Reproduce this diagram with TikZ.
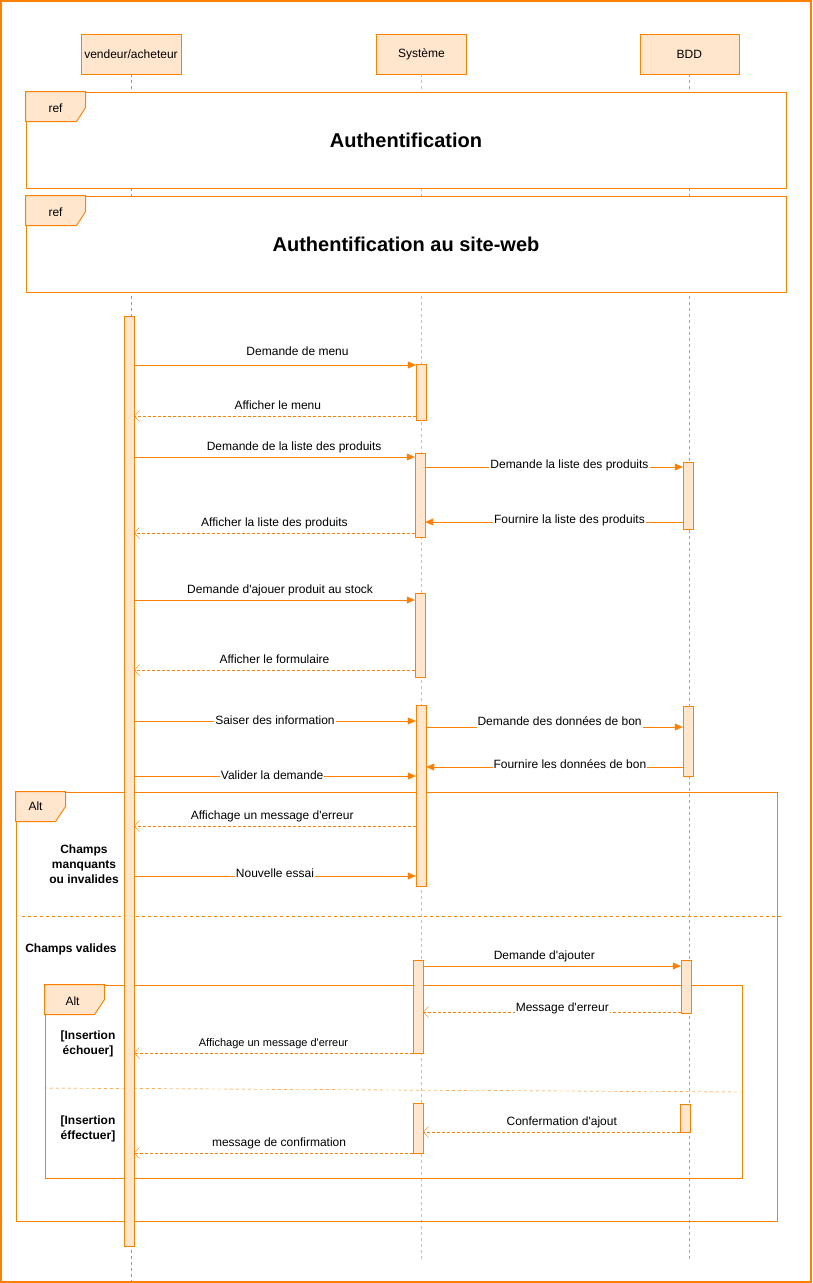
\documentclass[tikz,border=0pt]{standalone}
\usepackage{fontspec}
\setmainfont{Liberation Sans}
\usetikzlibrary{arrows.meta,positioning}
\definecolor{org}{HTML}{FF8000}
\definecolor{orgl}{HTML}{FFE6CC}

\begin{document}
\begin{tikzpicture}[x=1pt,y=-1pt,
  every node/.style={font=\fontsize{12}{14}\selectfont},
  head/.style={draw=org,fill=orgl,minimum height=40pt,inner sep=0pt},
  life/.style={org,dash pattern=on 3pt off 3pt},
  act/.style={draw=org,fill=orgl,minimum width=10pt,inner sep=0pt},
  frame/.style={draw=org,line width=0.9pt},
  tab/.style={draw=org,fill=orgl,line width=0.9pt},
  msg/.style={org,-{Triangle[length=8pt,width=7pt]}},
  ret/.style={org,dash pattern=on 3pt off 2pt,-{Straight Barb[length=5pt,width=11pt]}},
  lab/.style={text=black,inner sep=1pt,text height=8.5pt,text depth=2.5pt},
  onl/.style={text=black,fill=white,inner sep=1pt,text height=8.5pt,text depth=2.5pt},
  guard/.style={font=\fontsize{12}{15}\selectfont\bfseries,align=center}]

  \useasboundingbox (0,0) rectangle (812,1283);
  \draw[org,line width=2pt] (1,1) rectangle (811,1282);

  % lifelines
  \node[head,minimum width=100pt] (va) at (131,54) {vendeur/acheteur};
  \node[head,minimum width=90pt,right=195pt of va] (sys) {Système};
  \node[head,minimum width=99pt,right=173pt of sys] (bdd) {BDD};

  \draw[life] (va) -- (va |- 0,1283);
  \draw[life,org!60] (sys) -- (sys |- 0,1260);
  \draw[gray!70,dash pattern=on 3pt off 3pt] (bdd) -- (bdd |- 0,1260);

  % ref frames
  \node[frame,fill=white,minimum width=760pt,minimum height=96pt,
        font=\fontsize{20}{24}\selectfont\bfseries] (ref1) at (406,140) {Authentification};
  \draw[tab] (ref1.north west) -- ++(60,0) -- ++(0,16) -- ++(-9,14) -- ++(-51,0) -- cycle;
  \node (ref1-t) at ([shift={(30,17)}]ref1.north west) {ref};

  \node[frame,fill=white,minimum width=760pt,minimum height=96pt,
        font=\fontsize{20}{24}\selectfont\bfseries] (ref2) at (406,244) {Authentification au site-web};
  \draw[tab] (ref2.north west) -- ++(60,0) -- ++(0,16) -- ++(-9,14) -- ++(-51,0) -- cycle;
  \node (ref2-t) at ([shift={(30,17)}]ref2.north west) {ref};

  % alt frames
  \node[frame,minimum width=761pt,minimum height=429pt] (alt1) at (396.5,1006.5) {};
  \draw[tab] (alt1.north west) -- ++(50,0) -- ++(0,15) -- ++(-10,15) -- ++(-40,0) -- cycle;
  \node (alt1-t) at ([shift={(20,15)}]alt1.north west) {Alt};
  \draw[org,dash pattern=on 3pt off 3pt] (22,916) -- (782,916);
  \node[guard] (g1) at (84,864) {Champs\\manquants\\ou invalides};
  \node[guard] (g2) at (71,949) {Champs valides};

  \node[frame,minimum width=697pt,minimum height=193pt] (alt2) at (393.5,1081.5) {};
  \draw[tab] (alt2.north west) -- ++(60,0) -- ++(0,15) -- ++(-10,15) -- ++(-50,0) -- cycle;
  \node (alt2-t) at ([shift={(28,17)}]alt2.north west) {Alt};
  \draw[org,dash pattern=on 3pt off 3pt] (44,1088) -- (742,1092);
  \node[guard] (g3) at (88,1044) {[Insertion\\échouer]};
  \node[guard] (g4) at (88,1129) {[Insertion\\éffectuer]};

  % activation bars
  \node[act,minimum height=930pt] (va0) at (129,781) {};
  \node[act,minimum height=56pt]  (s1) at (421,392) {};
  \node[act,minimum height=84pt]  (s2) at (420,495) {};
  \node[act,minimum height=84pt]  (s3) at (420,635) {};
  \node[act,minimum height=181pt] (s4) at (421,795.5) {};
  \node[act,minimum height=93pt]  (s5) at (418,1006.5) {};
  \node[act,minimum height=50pt]  (s6) at (418,1128) {};
  \node[act,minimum height=67pt]  (b1) at (688,495.5) {};
  \node[act,minimum height=70pt]  (b2) at (688,741) {};
  \node[act,minimum height=53pt]  (b3) at (686,986.5) {};
  \node[act,minimum height=28pt]  (b4) at (685,1118) {};

  % messages
  \draw[msg] (va0.east |- 0,365) -- node[lab,pos=.58,above=5.5pt] {Demande de menu} (s1.west |- 0,365);
  \draw[ret] (s1.west |- 0,416) -- node[lab,pos=.49,above=2.5pt] {Afficher le menu} (va0.east |- 0,416);
  \draw[msg] (va0.east |- 0,457) -- node[lab,pos=.57,above=2.5pt] {Demande de la liste des produits} (s2.west |- 0,457);
  \draw[msg] (s2.east |- 0,467) -- node[onl,pos=.56,yshift=2pt] {Demande la liste des produits} (b1.west |- 0,467);
  \draw[msg] (b1.west |- 0,522) -- node[onl,pos=.44,yshift=2pt] {Fournire la liste des produits} (s2.east |- 0,522);
  \draw[ret] (s2.west |- 0,533) -- node[lab,pos=.5,above=2.5pt] {Afficher la liste des produits} (va0.east |- 0,533);
  \draw[msg] (va0.east |- 0,600) -- node[lab,pos=.52,above=2.5pt] {Demande d\textquotesingle ajouer produit au stock} (s3.west |- 0,600);
  \draw[ret] (s3.west |- 0,670) -- node[lab,pos=.5,above=2.5pt] {Afficher le formulaire} (va0.east |- 0,670);
  \draw[msg] (va0.east |- 0,721) -- node[onl,pos=.5] {Saiser des information~} (s4.west |- 0,721);
  \draw[msg] (s4.east |- 0,727) -- node[onl,pos=.52,yshift=5pt] {Demande des données de bon} (b2.west |- 0,727);
  \draw[msg] (b2.west |- 0,767) -- node[onl,pos=.44,yshift=2pt] {Fournire les données de bon~} (s4.east |- 0,767);
  \draw[msg] (va0.east |- 0,776) -- node[onl,pos=.49] {Valider la demande} (s4.west |- 0,776);
  \draw[ret] (s4.west |- 0,826) -- node[lab,pos=.51,above=2.5pt] {Affichage un message d\textquotesingle erreur} (va0.east |- 0,826);
  \draw[msg] (va0.east |- 0,876) -- node[onl,pos=.5,yshift=2pt] {Nouvelle essai} (s4.west |- 0,876);
  \draw[msg] (s5.east |- 0,966) -- node[lab,pos=.47,above=2.5pt] {Demande d\textquotesingle ajouter} (b3.west |- 0,966);
  \draw[ret] (b3.west |- 0,1012) -- node[onl,pos=.46,yshift=4pt] {Message d\textquotesingle erreur} (s5.east |- 0,1012);
  \draw[ret] (s5.west |- 0,1053) -- node[lab,pos=.5,above=2.5pt,font=\fontsize{11}{13}\selectfont] {Affichage un message d\textquotesingle erreur} (va0.east |- 0,1053);
  \draw[ret] (b4.west |- 0,1132) -- node[lab,pos=.46,above=2.5pt] {Confermation d\textquotesingle ajout} (s6.east |- 0,1132);
  \draw[ret] (s6.west |- 0,1153) -- node[lab,pos=.48,above=2.5pt] {message de confirmation} (va0.east |- 0,1153);

\end{tikzpicture}
\end{document}
